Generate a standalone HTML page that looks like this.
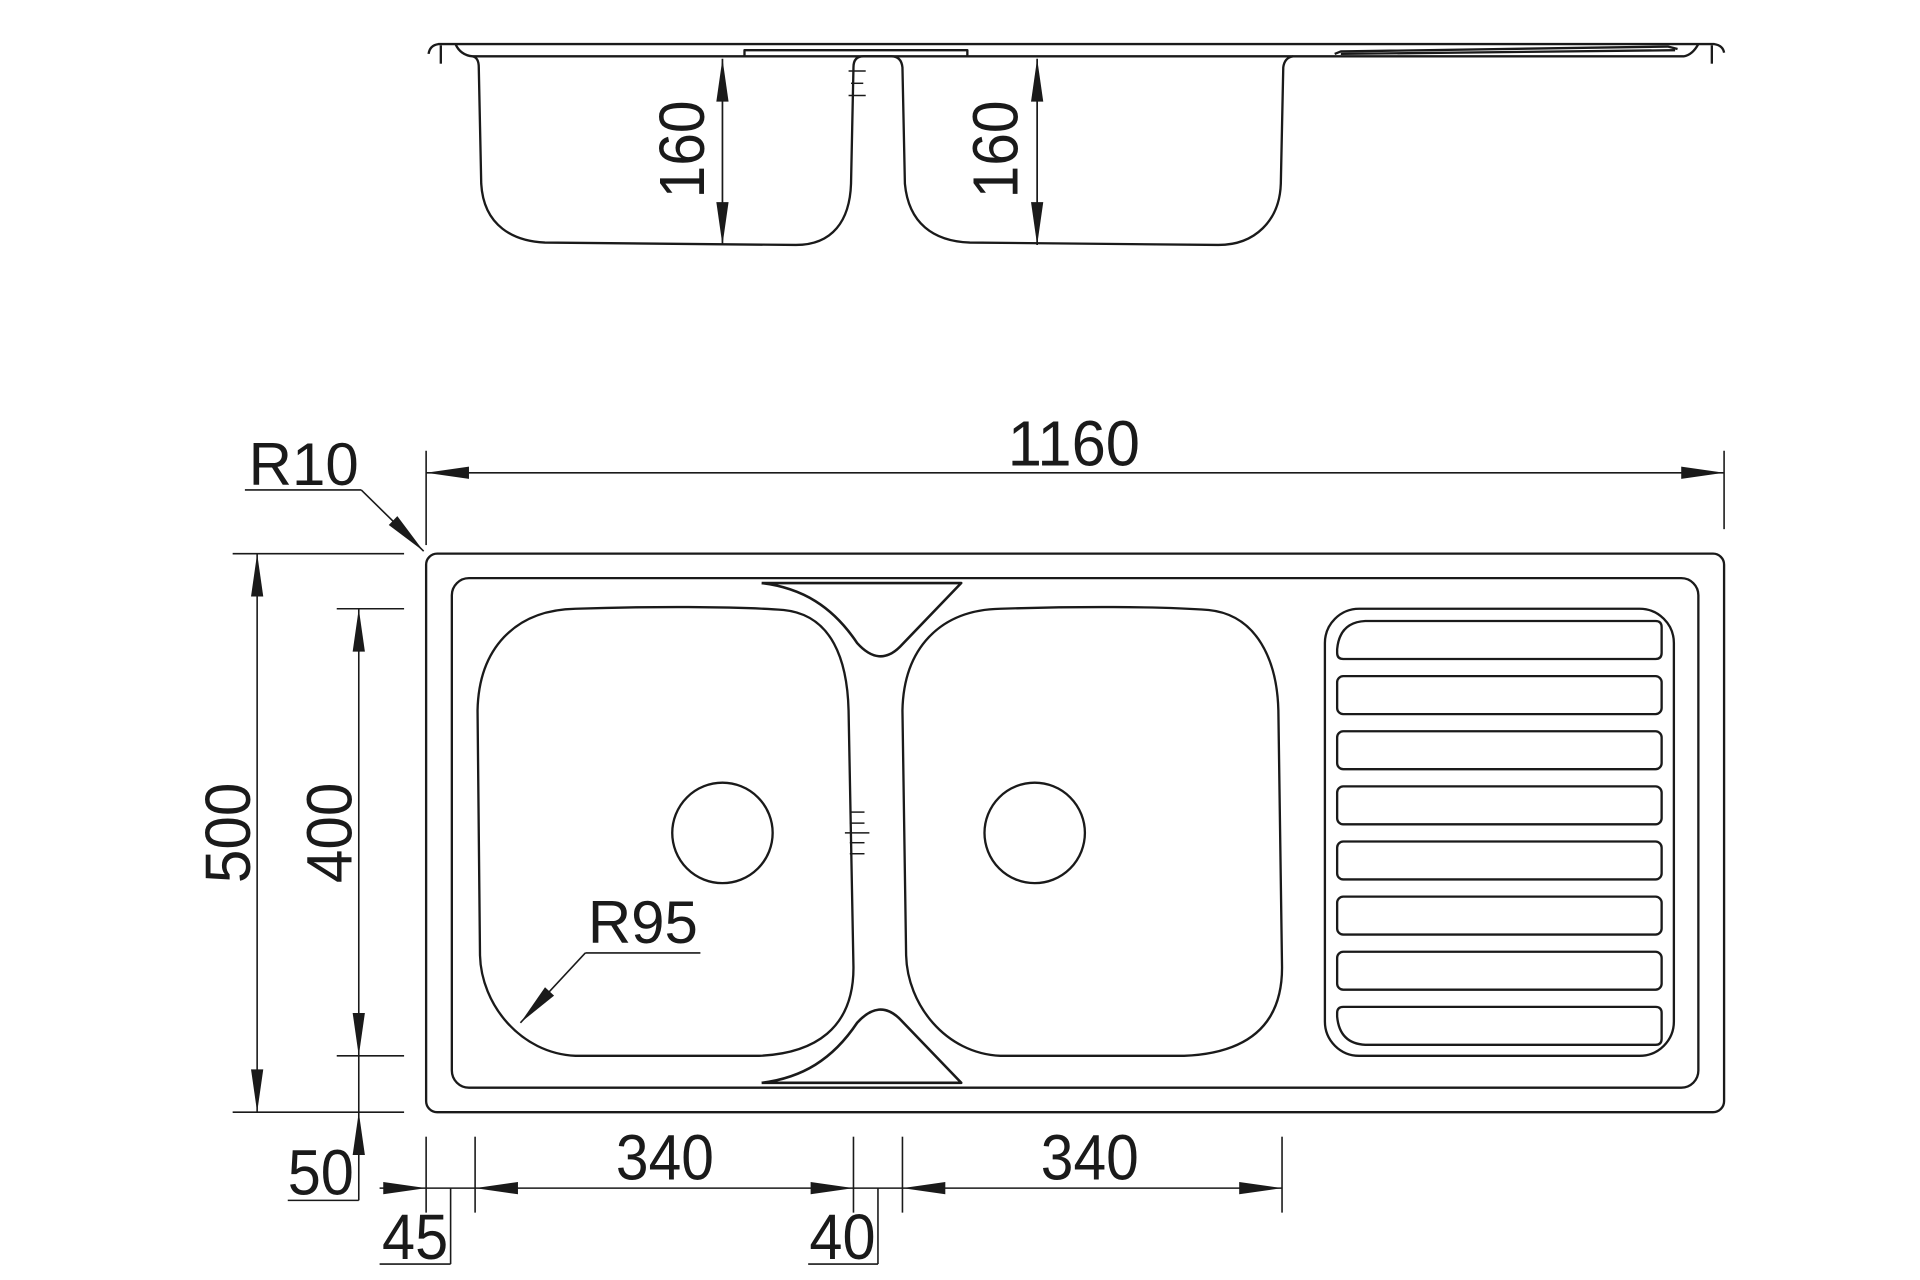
<!DOCTYPE html>
<html><head><meta charset="utf-8"><style>
html,body{margin:0;padding:0;background:#fff;}
svg{display:block;}
text{font-family:"Liberation Sans",Arial,sans-serif;fill:#1a1a1a;}
</style></head><body>
<svg width="1920" height="1280" viewBox="0 0 1568 1045" preserveAspectRatio="none" xmlns="http://www.w3.org/2000/svg">
<g fill="none" stroke="#1a1a1a" stroke-width="1.9" stroke-linejoin="round">
<path d="M350 44 Q351 37 358 36 L1400 36 Q1407 37 1408 43"/>
<line x1="360" y1="37" x2="360" y2="52"/>
<line x1="1398" y1="37" x2="1398" y2="52"/>
<path d="M372 36 Q376 45 386 46 Q391 47 391 55 L393 150 C395 185 420 197 445 198 L650 200 C680 200 694 180 695 150 L697 55 Q697 46 705 46 L728 46 Q736 46 737 55 L739 150 C742 182 762 197 792 198 L995 200 C1025 200 1045 180 1046 150 L1048 55 Q1049 47 1056 46 L1375 46 Q1382 45 1387 36"/>
<line x1="386" y1="46" x2="1056" y2="46"/>
<path d="M608 46 L608 41 L790 41 L790 46"/>
<path d="M1090 44 L1095 42 L1362 38 L1370 40"/>
<path d="M1095 44 L1368 41"/>
<line x1="693" y1="58" x2="707" y2="58" stroke-width="1.2"/>
<line x1="695" y1="68" x2="705" y2="68" stroke-width="1.2"/>
<line x1="693" y1="78" x2="707" y2="78" stroke-width="1.2"/>
<line x1="590" y1="48" x2="590" y2="200" stroke-width="1.4"/>
<line x1="847" y1="48" x2="847" y2="200" stroke-width="1.4"/>

<rect x="348" y="452" width="1060" height="456" rx="9"/>
<rect x="369" y="472" width="1018" height="416" rx="14"/>
<path d="M470 497 C530 495 600 495 640 498 C680 502 692 540 693 580 L697 790 C697 840 665 860 620 862 L470 862 C425 860 393 820 392 780 L390 580 C391 530 420 498 470 497 Z"/>
<path d="M817 497 C877 495 947 495 987 498 C1027 502 1043 540 1044 580 L1047 790 C1047 840 1015 860 967 862 L817 862 C772 860 741 820 740 780 L737 580 C738 530 767 498 817 497 Z"/>
<path d="M622 476 L785 476 L735 528 Q718 545 700 525 C680 495 655 480 622 476" stroke-width="2.1"/>
<path d="M622 884 L785 884 L735 832 Q718 815 700 835 C680 865 655 880 622 884" stroke-width="2.1"/>
<circle cx="590" cy="680" r="41"/>
<circle cx="845" cy="680" r="41"/>
<line x1="694" y1="663" x2="706" y2="663" stroke-width="1.2"/>
<line x1="694" y1="672" x2="706" y2="672" stroke-width="1.2"/>
<line x1="690" y1="680" x2="710" y2="680" stroke-width="1.2"/>
<line x1="694" y1="688" x2="706" y2="688" stroke-width="1.2"/>
<line x1="694" y1="697" x2="706" y2="697" stroke-width="1.2"/>
<rect x="1082" y="497" width="285" height="365" rx="28"/>
<path d="M1115 507 L1352 507 Q1357 507 1357 512 L1357 533 Q1357 538 1352 538 L1097 538 Q1092 538 1092 533 L1092 530 Q1094 508 1115 507 Z"/>
<rect x="1092" y="552" width="265" height="31" rx="5"/>
<rect x="1092" y="597" width="265" height="31" rx="5"/>
<rect x="1092" y="642" width="265" height="31" rx="5"/>
<rect x="1092" y="687" width="265" height="31" rx="5"/>
<rect x="1092" y="732" width="265" height="31" rx="5"/>
<rect x="1092" y="777" width="265" height="31" rx="5"/>
<path d="M1097 822 L1352 822 Q1357 822 1357 827 L1357 848 Q1357 853 1352 853 L1115 853 Q1094 852 1092 830 L1092 827 Q1092 822 1097 822 Z"/>
</g>

<g fill="none" stroke="#1a1a1a" stroke-width="1.3">
<line x1="348" y1="386" x2="1408" y2="386"/>
<line x1="348" y1="368" x2="348" y2="445"/>
<line x1="1408" y1="368" x2="1408" y2="432"/>
<line x1="200" y1="400" x2="295" y2="400"/>
<line x1="295" y1="400" x2="346" y2="450"/>
<line x1="190" y1="452" x2="330" y2="452"/>
<line x1="190" y1="908" x2="330" y2="908"/>
<line x1="210" y1="452" x2="210" y2="908"/>
<line x1="275" y1="497" x2="330" y2="497"/>
<line x1="275" y1="862" x2="330" y2="862"/>
<line x1="293" y1="497" x2="293" y2="980"/>
<line x1="235" y1="980" x2="293" y2="980"/>
<line x1="348" y1="928" x2="348" y2="990"/>
<line x1="388" y1="928" x2="388" y2="990"/>
<line x1="697" y1="928" x2="697" y2="990"/>
<line x1="737" y1="928" x2="737" y2="990"/>
<line x1="1047" y1="928" x2="1047" y2="990"/>
<line x1="310" y1="970" x2="1047" y2="970"/>
<line x1="368" y1="970" x2="368" y2="1032"/>
<line x1="310" y1="1032" x2="368" y2="1032"/>
<line x1="717" y1="970" x2="717" y2="1032"/>
<line x1="660" y1="1032" x2="717" y2="1032"/>
<line x1="478" y1="778" x2="572" y2="778"/>
<line x1="478" y1="778" x2="425" y2="835"/>
</g>

<g fill="#1a1a1a" stroke="none">
<polygon points="348,386 383,381 383,391"/>
<polygon points="1408,386 1373,381 1373,391"/>
<polygon points="210,452 205,487 215,487"/>
<polygon points="210,908 205,873 215,873"/>
<polygon points="293,497 288,532 298,532"/>
<polygon points="293,862 288,827 298,827"/>
<polygon points="293,908 288,943 298,943"/>
<polygon points="348,970 313,965 313,975"/>
<polygon points="388,970 423,965 423,975"/>
<polygon points="697,970 662,965 662,975"/>
<polygon points="737,970 772,965 772,975"/>
<polygon points="1047,970 1012,965 1012,975"/>
<polygon points="590,48 585,83 595,83"/>
<polygon points="590,200 585,165 595,165"/>
<polygon points="847,48 842,83 852,83"/>
<polygon points="847,200 842,165 852,165"/>
<polygon points="346,450 324.5,421.4 317.5,428.6"/>
<polygon points="425,835 452.5,812.8 445.1,806"/>
</g>

<g font-size="52">
<text x="877" y="380" text-anchor="middle" textLength="108" lengthAdjust="spacingAndGlyphs">1160</text>
<text x="248" y="396" text-anchor="middle" font-size="49">R10</text>
<text x="525" y="770" text-anchor="middle" font-size="49">R95</text>
<text x="543" y="963" text-anchor="middle" textLength="80" lengthAdjust="spacingAndGlyphs">340</text>
<text x="890" y="963" text-anchor="middle" textLength="80" lengthAdjust="spacingAndGlyphs">340</text>
<text x="262" y="975" text-anchor="middle" textLength="54" lengthAdjust="spacingAndGlyphs">50</text>
<text x="339" y="1028" text-anchor="middle" textLength="54" lengthAdjust="spacingAndGlyphs">45</text>
<text x="688" y="1028" text-anchor="middle" textLength="54" lengthAdjust="spacingAndGlyphs">40</text>
<text transform="translate(204,680) rotate(-90)" text-anchor="middle" textLength="82" lengthAdjust="spacingAndGlyphs">500</text>
<text transform="translate(287,680) rotate(-90)" text-anchor="middle" textLength="82" lengthAdjust="spacingAndGlyphs">400</text>
<text transform="translate(575,122) rotate(-90)" text-anchor="middle" textLength="80" lengthAdjust="spacingAndGlyphs">160</text>
<text transform="translate(831,122) rotate(-90)" text-anchor="middle" textLength="80" lengthAdjust="spacingAndGlyphs">160</text>
</g>
</svg>
</body></html>
